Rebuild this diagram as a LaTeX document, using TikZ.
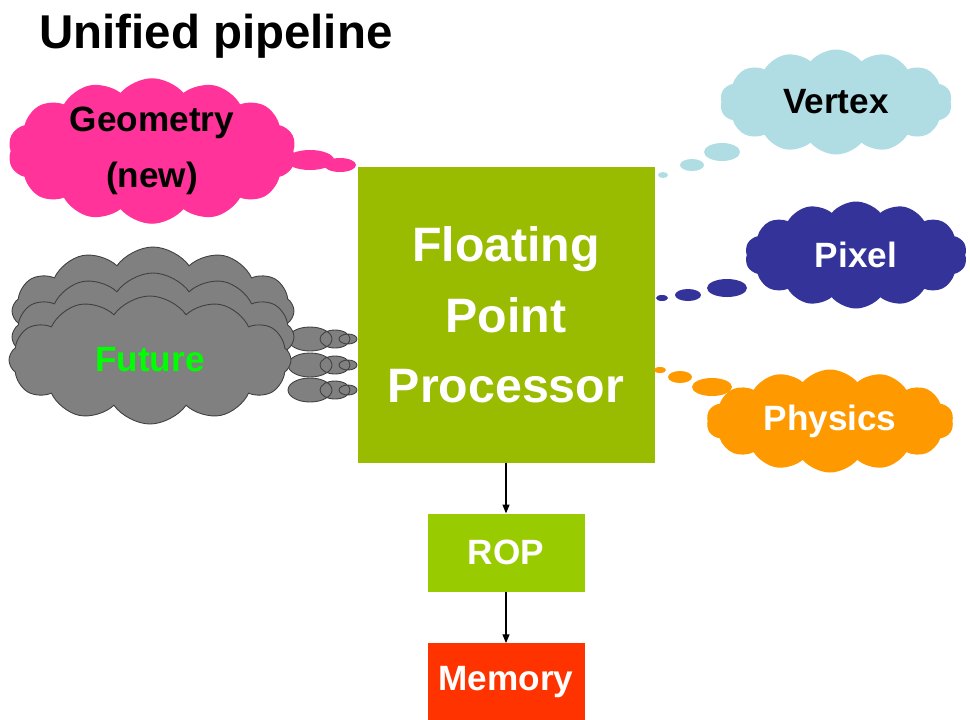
\documentclass[tikz,border=0pt]{standalone}
\usepackage{fontspec}
\setmainfont{Liberation Sans}
\usetikzlibrary{shapes.symbols, arrows.meta, positioning}
\definecolor{fppgreen}{RGB}{153,187,0}
\definecolor{ropgreen}{RGB}{153,204,0}
\definecolor{memred}{RGB}{255,51,0}
\definecolor{geopink}{RGB}{255,51,153}
\definecolor{vertblue}{RGB}{176,221,228}
\definecolor{pixnavy}{RGB}{51,51,153}
\definecolor{physorange}{RGB}{255,153,0}
\definecolor{futgray}{RGB}{128,128,128}
\definecolor{futgreen}{RGB}{0,255,0}

\tikzset{
  stage/.style={rectangle, text=white, inner sep=0pt, align=center,
    font=\bfseries\fontsize{20}{24}\selectfont},
  thought/.style={cloud, cloud puffs=14, cloud puff arc=100, cloud ignores aspect,
    inner sep=0pt, align=center, font=\bfseries\fontsize{20}{32}\selectfont},
  futcloud/.style={thought, cloud puffs=12, cloud puff arc=110, fill=futgray, draw=black!75, line width=0.5pt},
  flow/.style={-{Triangle[length=5pt,width=4pt]}, line width=0.6pt},
}

\begin{document}
\begin{tikzpicture}[x=0.2mm, y=-0.2mm]
\def\px{0.2mm}
\useasboundingbox (0,0) rectangle (970,719);

\node[anchor=base west, font=\bfseries\fontsize{27}{32}\selectfont] (title) at (33,48) {Unified pipeline};

%main pipeline
\node[stage, fill=fppgreen, minimum width=297*\px, minimum height=296*\px,
  font=\bfseries\fontsize{27.5}{40}\selectfont] (fpp) at (506,315) {Floating\\Point\\Processor};
\node[stage, fill=ropgreen, minimum width=157*\px, minimum height=78*\px, below=10mm of fpp] (rop) {ROP};
\node[stage, fill=memred, minimum width=157*\px, minimum height=78*\px, below=10.2mm of rop] (mem) {Memory};
\draw[flow] (fpp) -- (rop);
\draw[flow] (rop) -- (mem);

%geometry
\fill[geopink] (310,160) ellipse [x radius=24*\px, y radius=10*\px];
\fill[geopink] (340,165) ellipse [x radius=16*\px, y radius=7*\px];
\node[thought, fill=geopink, minimum width=288*\px, minimum height=112*\px] (geo) at (152,151) {Geometry\\(new)};

%vertex
\fill[vertblue] (722,152) ellipse [x radius=18*\px, y radius=9*\px];
\fill[vertblue] (692,165) ellipse [x radius=12*\px, y radius=6*\px];
\fill[vertblue] (663,175) ellipse [x radius=5*\px, y radius=3*\px];
\node[thought, fill=vertblue, minimum width=232*\px, minimum height=105*\px] (vert) at (836,102) {Vertex};

%pixel
\fill[pixnavy] (727,288) ellipse [x radius=20*\px, y radius=9*\px];
\fill[pixnavy] (688,295) ellipse [x radius=13*\px, y radius=6*\px];
\fill[pixnavy] (662,298) ellipse [x radius=6*\px, y radius=3*\px];
\node[thought, fill=pixnavy, text=white, minimum width=222*\px, minimum height=107*\px] (pix) at (856,255) {Pixel};

%physics
\fill[physorange] (660,370) ellipse [x radius=6*\px, y radius=3*\px];
\fill[physorange] (680,377) ellipse [x radius=12*\px, y radius=6*\px];
\fill[physorange] (712,387) ellipse [x radius=20*\px, y radius=9*\px];
\node[thought, fill=physorange, text=white, minimum width=247*\px, minimum height=103*\px] (phys) at (830,421) {Physics};

%future, three clouds
\foreach \cy/\nm in {311/fut3, 337/fut2}{
  \node[futcloud, minimum width=282*\px, minimum height=128*\px] (\nm) at (153,\cy) {};
  \filldraw[fill=futgray, draw=black!75, line width=0.5pt]
    (310,\cy+28) ellipse [x radius=22*\px, y radius=12*\px]
    (335,\cy+28) ellipse [x radius=15*\px, y radius=9*\px]
    (348,\cy+28) ellipse [x radius=9*\px, y radius=5*\px];
}
\node[futcloud, text=futgreen, minimum width=282*\px, minimum height=128*\px] (fut1) at (150,360) {Future};
\filldraw[fill=futgray, draw=black!75, line width=0.5pt]
  (310,390) ellipse [x radius=22*\px, y radius=12*\px]
  (335,390) ellipse [x radius=15*\px, y radius=9*\px]
  (348,390) ellipse [x radius=9*\px, y radius=5*\px];

\end{tikzpicture}
\end{document}
